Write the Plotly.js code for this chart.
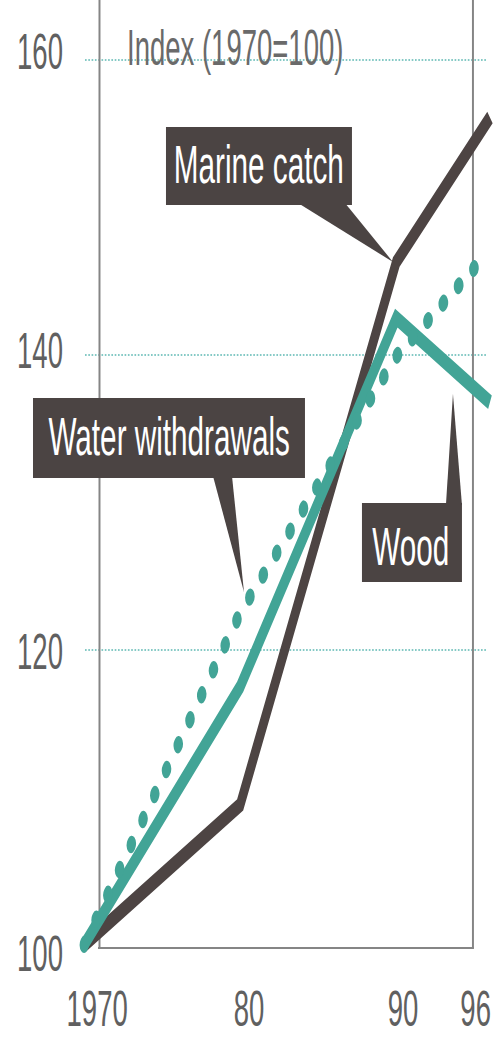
<!DOCTYPE html>
<html>
<head>
<meta charset="utf-8">
<script src="https://cdn.plot.ly/plotly-3.0.1.min.js"></script>
<style>
  html, body { margin: 0; padding: 0; background: #ffffff; overflow: hidden; }
  #wrap { width: 500px; height: 1037px; overflow: hidden; }
  #chart { transform-origin: 0 0; }
</style>
</head>
<body>
<div id="wrap"><div id="chart"></div></div>
<script>
// ---- data ----
const years = [1970, 1980, 1990, 1996];
const marineCatch = [100, 109.5, 146.3, 156.1];
const wood = [100, 117.5, 142.5, 136.8];
const waterYears = [1970, 1980, 1990, 1995];
const waterWithdrawals = [100, 122.5, 139.9, 145.9];

const seriesNames = ['Marine catch', 'Wood', 'Water withdrawals'];
const yTickVals = [100, 120, 140, 160];
const yTickText = ['100', '120', '140', '160'];
const xTickText = ['1970', '80', '90', '96'];
const unitLabel = 'Index (1970=100)';

// ---- layout helpers (final picture pixels -> paper coords) ----
const S = 0.55;               // horizontal condensing of the whole picture
const W = 500, H = 1037;
const UW = W / S;
const px = X => X / W;
const py = Y => 1 - Y / H;

document.getElementById('chart').style.transform = 'scaleX(' + S + ')';
document.getElementById('chart').style.width = UW + 'px';

const DARK = '#4d4443';
const TEAL = '#42a496';
const BOX = '#4b4443';
const FONT = 'Liberation Sans, Arial, sans-serif';

const traces = [
  { x: years, y: marineCatch, name: seriesNames[0], mode: 'lines',
    line: { color: DARK, width: 15 }, hoverinfo: 'skip' },
  { x: years, y: wood, name: seriesNames[1], mode: 'lines',
    line: { color: TEAL, width: 15 }, hoverinfo: 'skip' },
  { x: waterYears, y: waterWithdrawals, name: seriesNames[2], mode: 'lines',
    line: { color: TEAL, width: 16, dash: '2px,30.83px' }, hoverinfo: 'skip' }
];

const shapes = [];
// gridlines
yTickVals.slice(1).forEach(v => {
  shapes.push({ type: 'line', xref: 'paper', yref: 'y', x0: px(85), x1: px(487), y0: v, y1: v,
    line: { color: '#84c9c5', width: 2, dash: 'dot' }, layer: 'below' });
});
// frame
shapes.push({ type: 'line', xref: 'paper', yref: 'paper', x0: px(99.5), x1: px(99.5), y0: py(948), y1: 1,
  line: { color: '#858585', width: 3.6 }, layer: 'below' });
shapes.push({ type: 'line', xref: 'paper', yref: 'paper', x0: px(473), x1: px(473), y0: py(948), y1: 1,
  line: { color: '#858585', width: 3.6 }, layer: 'below' });
shapes.push({ type: 'line', xref: 'paper', yref: 'paper', x0: px(98), x1: px(474), y0: py(948), y1: py(948),
  line: { color: '#858585', width: 2.2 }, layer: 'below' });

function rect(x0, y0, x1, y1) {
  return { type: 'rect', xref: 'paper', yref: 'paper', x0: px(x0), x1: px(x1), y0: py(y1), y1: py(y0),
    fillcolor: BOX, line: { width: 0 }, layer: 'above' };
}
function tri(pts) {
  const d = pts.map((p, i) => (i ? 'L' : 'M') + px(p[0]) + ',' + py(p[1])).join(' ') + ' Z';
  return { type: 'path', xref: 'paper', yref: 'paper', path: d, fillcolor: BOX, line: { width: 0 }, layer: 'above' };
}
// label boxes + pointers
shapes.push(rect(166, 127, 352, 205));
shapes.push(tri([[298, 203], [345, 203], [393, 262]]));
shapes.push(rect(33, 398, 305, 478));
shapes.push(tri([[213, 476], [232, 476], [244, 592]]));
shapes.push(rect(362, 503, 462, 582));
shapes.push(tri([[446, 505], [462, 505], [453, 394]]));

const annotations = [];
function label(text, X, Y, size, color, anchor) {
  annotations.push({ text: text, xref: 'paper', yref: 'paper', x: px(X), y: py(Y),
    xanchor: anchor || 'center', yanchor: 'middle', showarrow: false,
    font: { family: FONT, size: size, color: color } });
}
label(seriesNames[0], 259, 164, 54, '#ffffff');
label(seriesNames[2], 169, 436, 54, '#ffffff');
label(seriesNames[1], 411, 546, 54, '#ffffff');
label(unitLabel, 235, 48, 50, '#6a6a6a');

const yTickPix = [954, 652, 351, 52];
yTickText.forEach((t, i) => label(t, 64, yTickPix[i], 50, '#606060', 'right'));
const xTickPix = [97, 249, 403, 476];
xTickText.forEach((t, i) => label(t, xTickPix[i], 1009, 50, '#606060'));

const layout = {
  width: UW, height: H,
  margin: { l: 0, r: 0, t: 0, b: 0, pad: 0 },
  paper_bgcolor: '#ffffff', plot_bgcolor: '#ffffff',
  showlegend: false,
  xaxis: { range: [1964.62, 1996.64], visible: false, fixedrange: true },
  yaxis: { range: [93.763, 164.068], visible: false, fixedrange: true },
  shapes: shapes,
  annotations: annotations
};

Plotly.newPlot('chart', traces, layout, { displayModeBar: false, staticPlot: true }).then(() => {
  const tr = document.querySelectorAll('.scatterlayer .trace');
  if (tr[2]) {
    const p = tr[2].querySelector('.js-line');
    if (p) p.style.strokeLinecap = 'round';
  }
});
</script>
</body>
</html>
